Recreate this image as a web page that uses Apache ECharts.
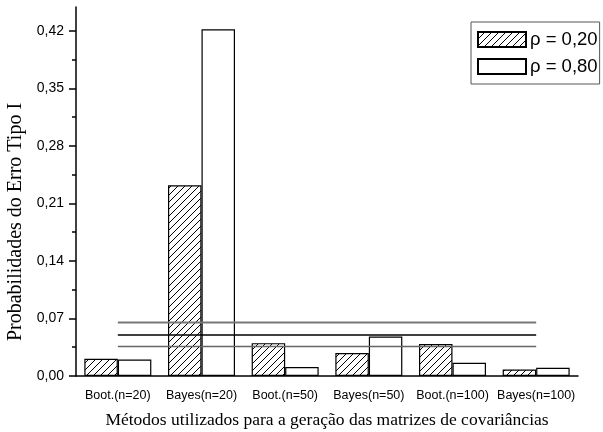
<!DOCTYPE html>
<html>
<head>
<meta charset="utf-8">
<script src="https://cdn.jsdelivr.net/npm/echarts@6/dist/echarts.min.js"></script>
<style>html,body{margin:0;padding:0;background:#fff}#c{width:603px;height:432px}</style>
</head>
<body>
<div id="c"></div>
<script>
var categories = ['Boot.(n=20)', 'Bayes(n=20)', 'Boot.(n=50)', 'Bayes(n=50)', 'Boot.(n=100)', 'Bayes(n=100)'];
var rho020 = [0.021, 0.232, 0.040, 0.028, 0.039, 0.008];
var rho080 = [0.020, 0.422, 0.011, 0.048, 0.016, 0.010];
var upperLimit = [0.065, 0.065, 0.065, 0.065, 0.065, 0.065];
var nominal = [0.050, 0.050, 0.050, 0.050, 0.050, 0.050];
var lowerLimit = [0.036, 0.036, 0.036, 0.036, 0.036, 0.036];
var yTicks = [0, 0.07, 0.14, 0.21, 0.28, 0.35, 0.42];
var yMinorTicks = [0.035, 0.105, 0.175, 0.245, 0.315, 0.385];
var seriesNames = ['ρ = 0,20', 'ρ = 0,80'];
var xTitle = 'Métodos utilizados para a geração das matrizes de covariâncias';
var yTitle = 'Probabilidades do Erro Tipo I';

function hatch() {
  var s = 7, c = document.createElement('canvas');
  c.width = s; c.height = s;
  var g = c.getContext('2d');
  g.fillStyle = '#fff'; g.fillRect(0, 0, s, s);
  g.strokeStyle = '#000'; g.lineWidth = 1;
  g.beginPath();
  g.moveTo(-1, s + 1); g.lineTo(s + 1, -1);
  g.moveTo(-1, 1); g.lineTo(1, -1);
  g.moveTo(s - 1, s + 1); g.lineTo(s + 1, s - 1);
  g.stroke();
  return c;
}

var chart = echarts.init(document.getElementById('c'), null, {renderer: 'canvas'});
var fmt = function (v) { return v.toFixed(2).replace('.', ','); };
var lineSeries = function (data, color, width) {
  return {type: 'line', data: data, symbol: 'none', silent: true, z: 5,
    lineStyle: {color: color, width: width}, xAxisIndex: 0, yAxisIndex: 0};
};

chart.setOption({
  animation: false,
  backgroundColor: '#fff',
  grid: {left: 76, right: 25, top: 7, bottom: 56, containLabel: false, outerBoundsMode: 'none'},
  legend: {
    orient: 'vertical', left: 471, top: 22,
    data: seriesNames, icon: 'rect',
    itemWidth: 48, itemHeight: 15, itemGap: 8,
    padding: [8, 2, 8, 6],
    borderColor: '#555', borderWidth: 1,
    textStyle: {fontFamily: 'Liberation Sans, Arial', fontSize: 18.5, color: '#000', padding: [0, 0, 0, -1]}
  },
  xAxis: [{
    type: 'category', data: categories, boundaryGap: true,
    name: xTitle, nameLocation: 'middle', nameGap: 35,
    nameTextStyle: {fontFamily: 'Liberation Serif, Times New Roman', fontSize: 17.5, color: '#000'},
    axisLine: {lineStyle: {color: '#000', width: 1.5}},
    axisTick: {alignWithLabel: true, length: 6, lineStyle: {color: '#000', width: 1.5}},
    axisLabel: {fontFamily: 'Liberation Sans, Arial', fontSize: 12.5, color: '#000', margin: 13, interval: 0},
    splitLine: {show: false}
  }, {
    type: 'category', data: categories, boundaryGap: true, position: 'bottom',
    axisLine: {show: false},
    axisTick: {length: 3, lineStyle: {color: '#000', width: 1.5}},
    axisLabel: {show: false}, splitLine: {show: false}
  }],
  yAxis: [{
    type: 'value', min: 0, max: 0.449,
    axisLine: {show: true, lineStyle: {color: '#000', width: 1.5}},
    axisTick: {show: true, length: 7, customValues: yTicks, lineStyle: {color: '#000', width: 1.5}},
    axisLabel: {customValues: yTicks, formatter: fmt, fontFamily: 'Liberation Sans, Arial', fontSize: 14, color: '#000', margin: 12},
    splitLine: {show: false}
  }, {
    type: 'value', min: 0, max: 0.449, position: 'left',
    axisLine: {show: false},
    axisTick: {show: true, length: 4, customValues: yMinorTicks, lineStyle: {color: '#000', width: 1.5}},
    axisLabel: {show: false}, splitLine: {show: false}
  }],
  graphic: [{
    type: 'text', x: 16, y: 222, rotation: Math.PI / 2,
    style: {text: yTitle, fill: '#000', font: '20px "Liberation Serif", "Times New Roman"',
      align: 'center', verticalAlign: 'middle'}
  }],
  series: [{
    name: seriesNames[0], type: 'bar', data: rho020, barWidth: 33.5, barGap: '0%',
    itemStyle: {color: {image: hatch(), repeat: 'repeat'}, borderColor: '#000', borderWidth: 1.2}
  }, {
    name: seriesNames[1], type: 'bar', data: rho080, barWidth: 33.5, barGap: '0%',
    itemStyle: {color: '#fff', borderColor: '#000', borderWidth: 1.2}
  },
    lineSeries(upperLimit, '#777', 2),
    lineSeries(nominal, '#000', 1.5),
    lineSeries(lowerLimit, '#666', 1.5)
  ]
});
</script>
</body>
</html>
